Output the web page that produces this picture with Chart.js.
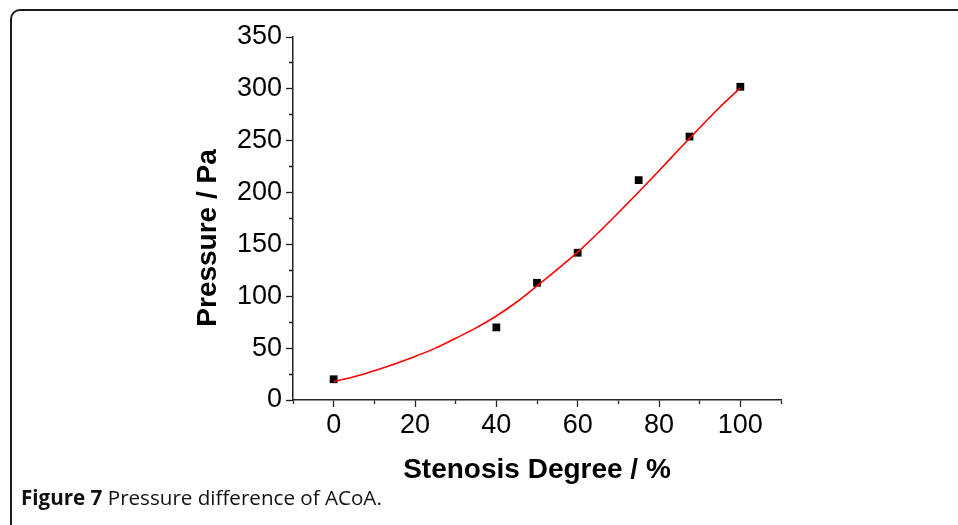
<!DOCTYPE html>
<html>
<head>
<meta charset="utf-8">
<script src="https://cdn.jsdelivr.net/npm/chart.js@4"></script>
<style>
  body { margin: 0; background: #fff; }
  #wrap { position: relative; width: 958px; height: 525px; overflow: hidden; }
  #frame {
    position: absolute; left: 10px; top: 9px; width: 1000px; height: 600px;
    border: 2px solid #1a1a1a; border-radius: 10px;
  }
  #chart { position: absolute; left: 0; top: 0; }
  #caption {
    position: absolute; left: 21px; top: 483px;
    font-family: 'Open Sans', sans-serif; font-size: 20.6px; line-height: 28px; color: #111;
  }
</style>
</head>
<body>
<div id="wrap">
  <div id="frame"></div>
  <canvas id="chart" width="958" height="525"></canvas>
  <div id="caption"><b>Figure 7</b> Pressure difference of ACoA.</div>
</div>
<script>
// measured points
var stenosis = [0, 40, 50, 60, 75, 87.5, 100];
var pressure = [20, 70, 113, 142, 212, 254, 302];

// fitted curve
var fitX = [0, 5, 10, 15, 20, 25, 30, 35, 40, 45, 50, 55, 60, 65, 70, 75, 80, 85, 90, 95, 100];
var fitY = [17.7, 22.5, 28.3, 34.8, 42, 50, 59.5, 69.5, 81, 94.5, 110, 126, 142.5, 161, 180.5, 200.5, 221, 242, 262.5, 282.5, 301];

var xTicks = [0, 20, 40, 60, 80, 100];
var yTicks = [0, 50, 100, 150, 200, 250, 300, 350];

function pairs(xs, ys) {
    var out = [];
    for (var i = 0; i < xs.length; i++) out.push({x: xs[i], y: ys[i]});
    return out;
}

var tickFont = {family: 'Liberation Sans, Arial', size: 27};
var titleFont = {family: 'Liberation Sans, Arial', size: 28, weight: 'bold', lineHeight: 1.2};

new Chart(document.getElementById('chart'), {
    type: 'scatter',
    data: {
        datasets: [
            {
                label: 'fit',
                data: pairs(fitX, fitY),
                showLine: true,
                borderColor: '#ff0000',
                borderWidth: 1.6,
                pointRadius: 0,
                cubicInterpolationMode: 'monotone'
            },
            {
                label: 'data',
                data: pairs(stenosis, pressure),
                pointStyle: 'rect',
                pointRadius: 5.5,
                backgroundColor: '#000',
                borderColor: '#000',
                borderWidth: 0
            }
        ]
    },
    options: {
        responsive: false,
        animation: false,
        layout: {padding: {left: 0, top: 37, right: 177, bottom: 0}},
        plugins: {legend: {display: false}, tooltip: {enabled: false}},
        scales: {
            x: {
                type: 'linear',
                min: -10,
                max: 110,
                afterFit: function (scale) { scale.height = 125; },
                ticks: {
                    stepSize: 10,
                    font: tickFont,
                    color: '#000',
                    padding: 2,
                    maxRotation: 0,
                    autoSkip: false,
                    callback: function (v) { return xTicks.indexOf(v) >= 0 ? String(v) : ''; }
                },
                grid: {
                    drawOnChartArea: false,
                    tickLength: 7,
                    tickWidth: 1.3,
                    tickColor: '#222',
                    tickBorderDash: function (ctx) {
                        return ctx.tick && xTicks.indexOf(ctx.tick.value) >= 0 ? [] : [3.5, 20];
                    }
                },
                border: {color: '#222', width: 1.5},
                title: {display: true, text: 'Stenosis Degree / %', font: titleFont, color: '#000', padding: {bottom: 38}}
            },
            y: {
                type: 'linear',
                min: 0,
                max: 350,
                afterFit: function (scale) { scale.width = 293; },
                ticks: {
                    stepSize: 25,
                    font: tickFont,
                    color: '#000',
                    padding: 4,
                    autoSkip: false,
                    callback: function (v) { return yTicks.indexOf(v) >= 0 ? String(v) : ''; }
                },
                grid: {
                    drawOnChartArea: false,
                    tickLength: 7,
                    tickWidth: 1.3,
                    tickColor: '#222',
                    tickBorderDash: function (ctx) {
                        return ctx.tick && yTicks.indexOf(ctx.tick.value) >= 0 ? [] : [0, 3, 10, 10];
                    }
                },
                border: {color: '#222', width: 1.5},
                title: {display: true, text: 'Pressure / Pa     ', font: titleFont, color: '#000', padding: {top: 191}}
            }
        }
    }
});
</script>
</body>
</html>
